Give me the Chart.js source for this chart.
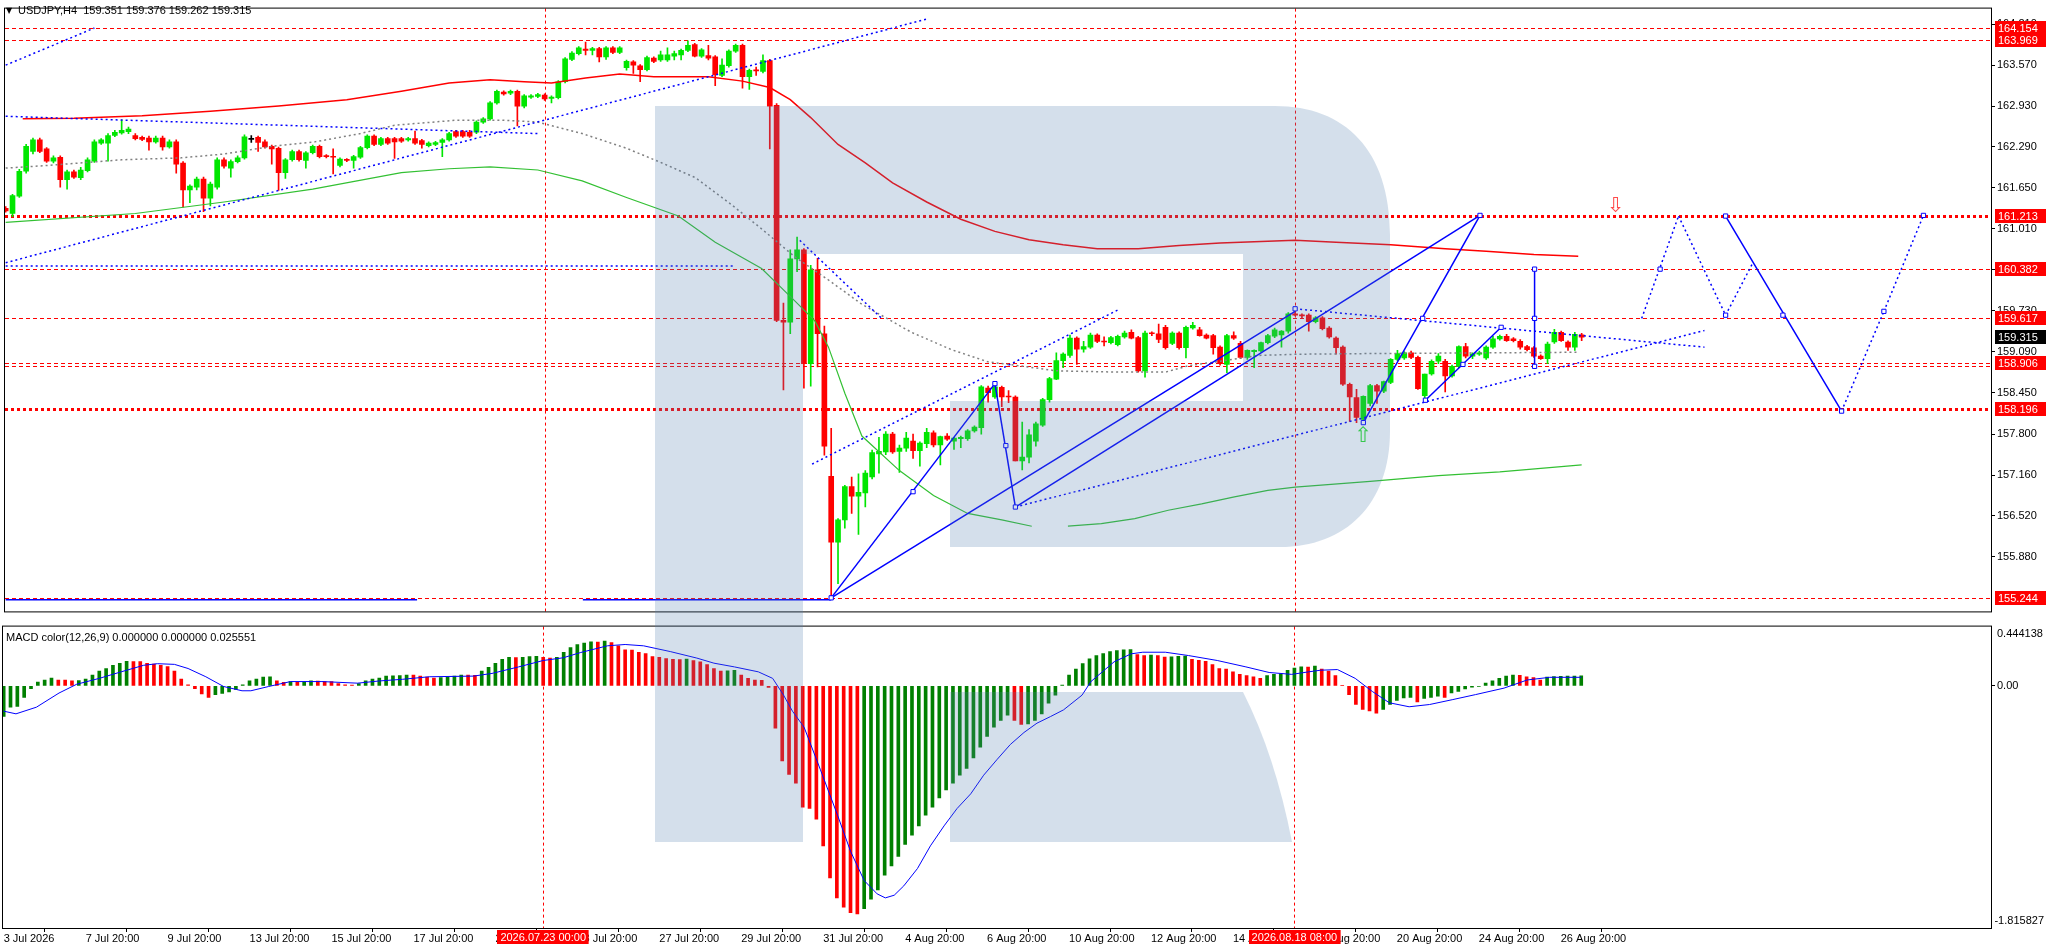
<!DOCTYPE html>
<html>
<head>
<meta charset="utf-8">
<title>USDJPY,H4</title>
<script src="https://cdn.jsdelivr.net/npm/chart.js"></script>
<style>
  html, body { margin: 0; padding: 0; background: #fff; overflow: hidden; }
  #wrap { position: relative; width: 2046px; height: 948px; }
  #priceBox { position: absolute; left: 0; top: 0; width: 2046px; height: 620px; }
  #macdBox { position: absolute; left: 0; top: 618px; width: 2046px; height: 330px; }
  #logo { position: absolute; left: 0; top: 0; pointer-events: none; }
</style>
</head>
<body>
<div id="wrap">
  <div id="priceBox"><canvas id="priceChart"></canvas></div>
  <div id="macdBox"><canvas id="macdChart"></canvas></div>
  <canvas id="logo" width="2046" height="948"></canvas>
</div>
<script>
// --- Data: H4 candles, bar 0 = 3 Jul 2026 20:00 ---
const opens = [
  161.33,161.25,161.52,161.91,162.22,162.40,162.26,162.07,162.13,161.78,
  161.90,161.81,161.92,162.07,162.35,162.35,162.47,162.51,162.53,162.47,
  162.44,162.43,162.37,162.43,162.29,162.37,162.04,161.62,161.66,161.79,
  161.49,161.66,162.09,161.96,162.06,162.12,162.41,162.44,162.37,162.30,
  162.27,161.89,162.09,162.22,162.08,162.20,162.30,162.15,162.14,162.00,
  162.09,162.08,162.13,162.28,162.46,162.33,162.42,162.42,162.42,162.40,
  162.42,162.39,162.31,162.33,162.36,162.40,162.53,162.53,162.52,162.52,
  162.68,162.73,162.98,163.15,163.13,163.16,162.93,163.07,163.08,163.10,
  163.05,163.06,163.31,163.66,163.75,163.82,163.80,163.83,163.70,163.84,
  163.77,163.53,163.62,163.56,163.50,163.68,163.65,163.65,163.71,163.73,
  163.80,163.89,163.71,163.72,163.70,163.41,163.56,163.79,163.88,163.39,
  163.49,163.47,163.64,162.94,159.58,159.55,160.54,160.68,158.90,160.37,
  159.37,157.14,156.11,156.46,156.98,156.83,156.88,157.13,157.49,157.52,
  157.80,157.53,157.58,157.69,157.54,157.65,157.82,157.63,157.77,157.69,
  157.73,157.73,157.85,157.90,158.52,158.38,158.53,158.39,158.38,157.38,
  157.44,157.69,157.94,158.34,158.66,158.95,159.03,159.30,159.13,159.16,
  159.35,159.25,159.23,159.20,159.32,159.39,159.31,158.79,159.38,159.37,
  159.47,159.22,159.38,159.15,159.46,159.43,159.35,159.34,159.16,158.89,
  159.34,159.22,159.00,159.09,159.10,159.23,159.33,159.35,159.41,159.68,
  159.66,159.66,159.56,159.62,159.46,159.30,159.16,158.58,158.37,158.03,
  158.28,158.56,158.47,158.61,158.97,158.99,159.07,159.00,158.40,158.74,
  158.94,158.94,158.71,158.86,159.17,159.02,159.05,158.99,159.16,159.29,
  159.33,159.29,159.25,159.17,159.15,159.02,158.98,159.24,159.39,159.24,
  159.16,159.351
];
const highs = [
  161.36,161.55,161.94,162.33,162.43,162.43,162.28,162.15,162.15,161.93,
  161.93,161.97,162.12,162.40,162.42,162.50,162.55,162.71,162.60,162.50,
  162.46,162.46,162.46,162.46,162.40,162.40,162.06,161.70,161.82,161.82,
  161.74,162.12,162.12,162.09,162.15,162.48,162.47,162.46,162.40,162.32,
  162.29,162.11,162.24,162.24,162.22,162.32,162.32,162.17,162.26,162.12,
  162.11,162.16,162.30,162.48,162.48,162.44,162.44,162.44,162.44,162.44,
  162.54,162.41,162.37,162.38,162.42,162.52,162.55,162.55,162.55,162.70,
  162.75,163.00,163.18,163.17,163.18,163.18,163.11,163.11,163.13,163.12,
  163.09,163.33,163.69,163.78,163.86,163.93,163.85,163.85,163.86,163.86,
  163.86,163.65,163.64,163.58,163.71,163.70,163.79,163.84,163.79,163.82,
  163.95,163.91,163.83,163.88,163.72,163.67,163.81,163.90,163.90,163.51,
  163.54,163.73,163.66,162.97,159.85,160.68,160.88,160.70,160.44,160.55,
  159.49,157.89,156.48,157.00,157.13,157.18,157.23,157.55,157.75,157.84,
  157.83,157.63,157.83,157.80,157.68,157.89,157.85,157.77,157.81,157.75,
  157.77,157.87,157.93,158.56,158.55,158.59,158.55,158.48,158.40,157.99,
  157.87,157.99,158.36,158.69,159.07,159.07,159.35,159.32,159.25,159.38,
  159.37,159.32,159.33,159.35,159.41,159.43,159.33,159.41,159.40,159.52,
  159.50,159.40,159.40,159.49,159.55,159.47,159.37,159.36,159.18,159.36,
  159.40,159.25,159.12,159.12,159.24,159.36,159.46,159.42,159.70,159.77,
  159.68,159.68,159.64,159.64,159.48,159.32,159.18,158.60,158.50,158.40,
  158.58,158.58,158.63,158.98,159.11,159.09,159.10,159.02,158.74,158.96,
  159.06,158.97,158.88,159.18,159.22,159.07,159.10,159.18,159.33,159.35,
  159.36,159.31,159.28,159.19,159.17,159.04,159.24,159.44,159.41,159.26,
  159.39,159.376
];
const lows = [
  161.27,161.20,161.50,161.88,162.18,162.20,162.05,162.04,161.66,161.63,
  161.80,161.78,161.90,162.05,162.33,162.07,162.45,162.49,162.50,162.40,
  162.39,162.24,162.35,162.24,162.27,161.88,161.35,161.42,161.62,161.28,
  161.37,161.63,161.96,161.82,162.04,162.10,162.36,162.22,162.27,162.02,
  161.61,161.80,162.07,162.07,161.96,162.18,162.12,162.12,161.87,161.98,
  162.06,161.96,162.11,162.26,162.31,162.31,162.33,162.11,162.36,162.38,
  162.33,162.27,162.29,162.31,162.14,162.38,162.44,162.44,162.44,162.50,
  162.66,162.71,162.96,163.10,163.11,162.62,162.90,163.05,163.06,163.02,
  162.98,163.04,163.29,163.64,163.73,163.73,163.73,163.62,163.66,163.75,
  163.75,163.49,163.44,163.31,163.48,163.61,163.63,163.63,163.65,163.65,
  163.78,163.70,163.69,163.65,163.25,163.39,163.54,163.77,163.21,163.19,
  163.41,163.45,162.26,159.56,158.49,159.37,160.34,158.52,158.55,158.85,
  157.47,155.244,155.46,156.33,156.56,156.23,156.66,157.10,157.19,157.48,
  157.50,157.20,157.53,157.42,157.30,157.59,157.60,157.32,157.70,157.56,
  157.59,157.70,157.83,157.80,158.30,158.36,158.23,158.29,157.38,157.24,
  157.35,157.61,157.92,158.30,158.65,158.84,159.00,158.89,159.08,159.14,
  159.23,159.18,159.21,159.18,159.30,159.29,158.77,158.69,159.34,159.23,
  159.13,159.20,159.13,158.99,159.44,159.33,159.29,159.05,158.88,158.76,
  159.28,158.98,158.97,158.84,159.08,159.21,159.31,159.16,159.38,159.65,
  159.62,159.41,159.54,159.43,159.30,159.05,158.56,158.00,157.98,157.98,
  158.24,158.28,158.45,158.59,158.95,158.97,158.98,158.50,158.31,158.72,
  158.90,158.46,158.69,158.84,158.99,158.98,159.03,158.97,159.14,159.27,
  159.25,159.24,159.13,159.10,159.00,158.97,158.90,159.22,159.25,159.11,
  159.11,159.262
];
const closes = [
  161.29,161.53,161.91,162.30,162.40,162.22,162.07,162.12,161.78,161.90,
  161.82,161.93,162.09,162.37,162.40,162.47,162.52,162.55,162.57,162.42,
  162.41,162.37,162.43,162.29,162.37,162.02,161.62,161.68,161.79,161.49,
  161.71,162.09,161.99,162.06,162.12,162.45,162.41,162.36,162.29,162.26,
  161.89,162.09,162.22,162.09,162.20,162.30,162.14,162.14,162.13,162.10,
  162.08,162.14,162.28,162.46,162.33,162.42,162.35,162.37,162.38,162.42,
  162.35,162.33,162.35,162.36,162.40,162.50,162.46,162.46,162.46,162.68,
  162.73,162.98,163.16,163.12,163.16,162.93,163.09,163.09,163.11,163.04,
  163.07,163.31,163.67,163.76,163.84,163.80,163.83,163.70,163.84,163.77,
  163.84,163.63,163.57,163.50,163.69,163.63,163.73,163.73,163.75,163.80,
  163.88,163.71,163.81,163.68,163.42,163.57,163.79,163.88,163.39,163.49,
  163.48,163.64,162.93,159.58,159.55,160.54,160.68,158.90,160.37,159.37,
  157.61,156.11,156.46,156.98,156.83,156.89,157.19,157.51,157.53,157.80,
  157.52,157.58,157.74,157.54,157.66,157.83,157.63,157.76,157.72,157.74,
  157.75,157.85,157.91,158.54,158.45,158.54,158.38,158.38,157.38,157.44,
  157.79,157.96,158.34,158.67,158.95,159.05,159.30,159.13,159.17,159.35,
  159.25,159.24,159.31,159.33,159.38,159.30,158.79,159.38,159.37,159.28,
  159.15,159.38,159.15,159.47,159.50,159.34,159.30,159.15,158.90,159.34,
  159.30,159.00,159.11,159.11,159.23,159.34,159.43,159.41,159.68,159.66,
  159.65,159.56,159.62,159.45,159.32,159.15,158.58,158.38,158.06,158.39,
  158.56,158.47,158.62,158.97,159.06,159.07,159.00,158.51,158.74,158.94,
  159.02,158.71,158.86,159.17,159.02,159.05,159.07,159.16,159.29,159.33,
  159.26,159.26,159.16,159.12,159.02,158.98,159.21,159.39,159.26,159.16,
  159.36,159.315
];

// moving averages (bar index, price)
const redMaX = [2.5,10,20,30,40,50,58,65,71,76,80,85,90,95,103,108,112,115,118,122,126,130,135,140,145,150,155,160,166,172,178,189,195,203,211,217,224,230.5];
const redMaY = [162.73,162.74,162.78,162.85,162.93,163.03,163.16,163.29,163.34,163.31,163.29,163.37,163.43,163.39,163.39,163.32,163.22,163.03,162.75,162.33,162.04,161.73,161.43,161.16,160.97,160.84,160.76,160.70,160.70,160.75,160.79,160.83,160.80,160.76,160.70,160.66,160.61,160.58];
const greenMaX = [0,19,32,45,58,65,71,78,84.5,91,98.6,104,110.8,115.7,118.6,120.6,123,125.5,131,136,141,146,150.4,153,155.7,160.6,165.5,170.4,175.3,180.1,185,189,200,210,219,231];
const greenMaY = [161.11,161.25,161.43,161.63,161.89,161.95,161.98,161.93,161.76,161.50,161.21,160.80,160.39,159.88,159.57,159.16,158.44,157.77,157.23,156.84,156.56,156.46,156.36,null,156.36,156.40,156.48,156.61,156.71,156.82,156.92,156.97,157.06,157.15,157.21,157.32];
const grayMaX = [0,6,17,25.7,32,39,45.3,52,57,61.6,66.2,72.8,78,84.5,91,96.2,101.1,106,110.8,115.7,120.6,125.5,132.8,138.65,144,148.5,154,163,170,173.4,178,183.5,189.7,200,215,230.5];
const grayMaY = [161.96,162.00,162.09,162.12,162.18,162.30,162.37,162.50,162.63,162.67,162.71,162.71,162.68,162.50,162.27,162.04,161.81,161.42,161.01,160.57,160.21,159.83,159.39,159.12,158.93,158.87,158.79,158.77,158.77,158.87,158.94,159.03,159.05,159.06,159.07,159.08];

// trend lines [bar1, price1, bar2, price2]
const dottedLines = [
  [0, 163.57, 13, 164.15], [0, 162.77, 78, 162.50], [0, 160.48, 135.3, 164.30],
  [0, 160.43, 107, 160.43], [116.4, 160.83, 128.5, 159.60], [118.2, 157.33, 163, 159.74],
  [148, 156.66, 249, 159.42], [189, 159.76, 249, 159.16],
  [239.8, 159.61, 245.2, 161.21], [245.2, 161.21, 252.1, 159.66], [252.1, 159.66, 256, 160.46],
  [269.1, 158.16, 275.3, 159.72], [275.3, 159.72, 281.1, 161.22]
];
const solidLines = [
  [0, 155.21, 60.3, 155.21], [84.6, 155.21, 121, 155.21],
  [121, 155.24, 145, 158.59], [145, 158.59, 148, 156.66],
  [121, 155.24, 189, 159.72], [148, 156.66, 216.1, 161.22],
  [199, 157.98, 216.1, 161.22], [208.1, 158.33, 219.2, 159.47],
  [224.1, 158.86, 224.1, 160.38], [252.1, 161.21, 269.1, 158.16]
];
const markerX = [121, 133, 145, 146.6, 148, 189, 199, 207.7, 216.1, 208.1, 213.6, 219.2, 224.1, 224.1, 224.1, 242.5, 252.1, 252.1, 260.5, 269.1, 275.3, 281.1];
const markerY = [155.24, 156.90, 158.59, 157.62, 156.66, 159.76, 157.98, 159.61, 161.22, 158.33, 158.89, 159.47, 158.86, 159.61, 160.38, 160.38, 159.66, 161.21, 159.66, 158.16, 159.72, 161.22];

// horizontal levels and vertical time lines
const levelPrices = [164.154, 163.969, 161.213, 160.382, 159.617, 158.906, 158.196, 155.244];
const extraLevels = [158.87];
const thickLevels = [161.213, 158.196];
const lastPrice = 159.315;
const vBars = [79, 189];
const vLabels = ['2026.07.23 00:00', '2026.08.18 08:00'];
const arrowBars = [236, 199];
const arrowPrices = [161.36, 157.76];
const arrowGlyphs = ['\u21E9', '\u21E7'];

// axes
const priceTicks = [164.210, 163.570, 162.930, 162.290, 161.650, 161.010, 160.370, 159.730, 159.090, 158.450, 157.800, 157.160, 156.520, 155.880];
const tickBars = [0, 12, 24, 36, 48, 60, 72, 84, 96, 108, 120, 132, 144, 156, 168, 180, 192, 204, 216, 228];
const tickLabels = ['3 Jul 2026', '7 Jul 20:00', '9 Jul 20:00', '13 Jul 20:00', '15 Jul 20:00', '17 Jul 20:00', '21 Jul 20:00',
  '23 Jul 20:00', '27 Jul 20:00', '29 Jul 20:00', '31 Jul 20:00', '4 Aug 20:00', '6 Aug 20:00', '10 Aug 20:00',
  '12 Aug 20:00', '14 Aug 20:00', '18 Aug 20:00', '20 Aug 20:00', '24 Aug 20:00', '26 Aug 20:00'];

// MACD histogram and signal
const macdHist = [
  -0.23,-0.16,-0.155,-0.086,-0.022,0.029,0.044,0.059,0.044,0.043,
  0.037,0.039,0.051,0.081,0.11,0.13,0.154,0.169,0.183,0.182,
  0.181,0.169,0.164,0.154,0.144,0.11,0.051,0.007,-0.022,-0.061,
  -0.086,-0.066,-0.056,-0.046,-0.027,0.007,0.037,0.051,0.066,0.068,
  0.037,0.027,0.032,0.027,0.029,0.037,0.036,0.032,0.031,0.017,
  0.007,0.006,0.017,0.037,0.051,0.059,0.073,0.075,0.077,0.081,
  0.080,0.073,0.066,0.059,0.061,0.066,0.073,0.081,0.080,0.079,
  0.11,0.139,0.169,0.198,0.213,0.211,0.213,0.22,0.222,0.213,
  0.208,0.213,0.252,0.286,0.31,0.32,0.33,0.328,0.335,0.325,
  0.30,0.27,0.268,0.252,0.242,0.22,0.213,0.205,0.198,0.196,
  0.20,0.19,0.18,0.159,0.13,0.11,0.112,0.117,0.081,0.056,
  0.044,0.042,-0.012,-0.318,-0.563,-0.665,-0.73,-0.91,-0.92,-1.00,
  -1.20,-1.44,-1.59,-1.66,-1.70,-1.71,-1.67,-1.60,-1.53,-1.42,
  -1.35,-1.28,-1.19,-1.12,-1.05,-0.97,-0.91,-0.84,-0.78,-0.73,
  -0.67,-0.62,-0.54,-0.46,-0.38,-0.31,-0.26,-0.22,-0.26,-0.29,
  -0.285,-0.26,-0.21,-0.13,-0.07,0.005,0.081,0.125,0.166,0.203,
  0.227,0.242,0.257,0.264,0.27,0.272,0.235,0.226,0.230,0.226,
  0.215,0.218,0.221,0.224,0.198,0.191,0.183,0.159,0.13,0.125,
  0.105,0.086,0.076,0.068,0.056,0.076,0.086,0.09,0.117,0.134,
  0.142,0.14,0.149,0.125,0.11,0.076,0.004,-0.066,-0.14,-0.176,
  -0.188,-0.205,-0.176,-0.14,-0.11,-0.09,-0.086,-0.12,-0.095,-0.086,
  -0.078,-0.086,-0.054,-0.042,-0.024,-0.01,-0.005,0.02,0.037,0.056,
  0.073,0.081,0.079,0.068,0.061,0.044,0.066,0.070,0.072,0.073,
  0.074,0.075
];
const sigX = [0,1.8,4.8,8.1,10.7,14,17.2,20.5,22.5,25,27,29.6,32.2,34.9,36.2,38.8,42,46.6,51.8,55.1,58.4,62.3,68.8,71.5,75.4,79,81.9,84.5,88.4,91,93.7,97.6,101.5,104,107,110.5,112.6,114.2,115.5,117.2,119.6,122.1,124,126,127.9,129.1,130.4,131.8,133.8,135.7,137.7,139.6,141.6,143.5,145.5,147.4,149.4,151.3,153.3,155.2,157.9,159.2,162.6,165.1,166.8,170.1,173.5,177.7,181.9,185.3,188.6,191.1,192.8,195.3,197.9,200.4,202.9,205.8,208.8,212.2,215.5,219.7,223.1,226.4,231];
const sigY = [-0.19,-0.21,-0.16,-0.054,0.012,0.056,0.105,0.154,0.166,0.161,0.13,0.068,-0.005,-0.037,-0.037,-0.005,0.032,0.032,0.02,0.037,0.049,0.068,0.073,0.093,0.142,0.19,0.21,0.25,0.30,0.31,0.30,0.257,0.208,0.17,0.142,0.105,0.056,-0.07,-0.19,-0.31,-0.63,-0.97,-1.24,-1.46,-1.56,-1.59,-1.57,-1.50,-1.37,-1.20,-1.05,-0.92,-0.81,-0.67,-0.55,-0.44,-0.35,-0.28,-0.23,-0.18,-0.07,0.032,0.18,0.24,0.252,0.252,0.227,0.19,0.142,0.10,0.086,0.105,0.117,0.122,0.056,-0.042,-0.127,-0.157,-0.14,-0.103,-0.066,-0.017,0.044,0.064,0.064];
const macdMin = -1.815827, macdMax = 0.444138;

const headerText = 'USDJPY,H4  159.351 159.376 159.262 159.315';
const macdTitle = 'MACD color(12,26,9) 0.000000 0.000000 0.025551';

// --- Setup ---
const FONT = '11px "Liberation Sans", Arial, sans-serif';
Chart.defaults.font.family = '"Liberation Sans", Arial, sans-serif';
Chart.defaults.font.size = 11;
Chart.defaults.color = '#000';
Chart.defaults.animation = false;

const xMin = -0.1, xMax = 291;
const bars = opens.map((_, i) => i);
const candleColor = bars.map(i => closes[i] > opens[i] ? '#00e600' : (closes[i] < opens[i] ? '#ff0000' : '#000000'));
const macdColor = bars.map(i => (i === 0 || macdHist[i] > macdHist[i - 1]) ? '#008000' : '#ff0000');

function pts(xs, ys) {
  return xs.map((x, i) => ({ x: x, y: ys[i] }));
}

function segment(s, dotted) {
  return {
    type: 'line', data: [{ x: s[0], y: s[1] }, { x: s[2], y: s[3] }],
    borderColor: '#0000ff', borderWidth: 1.5, borderDash: dotted ? [2, 3] : [],
    pointRadius: 0, order: 1
  };
}

function boxLabel(ctx, text, x, y, fill, center) {
  ctx.font = FONT;
  const w = center ? ctx.measureText(text).width + 6 : 2046 - x;
  const left = center ? Math.round(x - w / 2) : x;
  ctx.fillStyle = fill;
  ctx.fillRect(left, Math.round(y) - 7, w, 14);
  ctx.fillStyle = '#fff';
  ctx.textBaseline = 'middle';
  ctx.textAlign = center ? 'center' : 'left';
  ctx.fillText(text, center ? x : x + 3, Math.round(y) + 0.5);
}

function vLines(chart) {
  const { ctx, chartArea: a, scales: { x } } = chart;
  ctx.save();
  ctx.strokeStyle = '#ff0000';
  ctx.lineWidth = 1;
  ctx.setLineDash([3, 3]);
  vBars.forEach(b => {
    const px = Math.round(x.getPixelForValue(b)) + 0.5;
    ctx.beginPath(); ctx.moveTo(px, a.top); ctx.lineTo(px, a.bottom); ctx.stroke();
  });
  ctx.restore();
}

function frame(chart) {
  const { ctx, chartArea: a } = chart;
  ctx.save();
  ctx.strokeStyle = '#000';
  ctx.lineWidth = 1;
  ctx.strokeRect(a.left - 0.5, a.top - 0.5, a.right - a.left + 1, a.bottom - a.top + 1);
  ctx.restore();
}

const priceDecor = {
  id: 'priceDecor',
  beforeDatasetsDraw(chart) {
    const { ctx, chartArea: a, scales: { y } } = chart;
    ctx.save();
    ctx.strokeStyle = '#ff0000';
    levelPrices.concat(extraLevels).forEach(p => {
      const thick = thickLevels.includes(p);
      const py = Math.round(y.getPixelForValue(p)) + 0.5;
      ctx.lineWidth = thick ? 3 : 1;
      ctx.setLineDash(thick ? [3, 3] : [4, 3]);
      ctx.beginPath(); ctx.moveTo(a.left, py); ctx.lineTo(a.right, py); ctx.stroke();
    });
    ctx.restore();
    vLines(chart);
  },
  afterDatasetsDraw(chart) {
    const { ctx, scales: { x, y } } = chart;
    ctx.save();
    ctx.font = '21px "DejaVu Sans"';
    ctx.textAlign = 'center';
    ctx.textBaseline = 'middle';
    arrowBars.forEach((b, i) => {
      ctx.fillStyle = i === 0 ? '#ff4a4a' : '#2ee02e';
      ctx.fillText(arrowGlyphs[i], x.getPixelForValue(b), y.getPixelForValue(arrowPrices[i]));
    });
    ctx.restore();
  },
  afterDraw(chart) {
    const { ctx, chartArea: a, scales: { y } } = chart;
    frame(chart);
    ctx.save();
    ctx.fillStyle = '#000';
    ctx.textBaseline = 'middle';
    ctx.textAlign = 'left';
    ctx.font = '8px "DejaVu Sans"';
    ctx.fillText('\u25BC', 6, 11);
    ctx.font = FONT;
    ctx.fillText(headerText, 18, 11);
    levelPrices.forEach(p => boxLabel(ctx, p.toFixed(3), a.right + 4, y.getPixelForValue(p), '#ff0000', false));
    boxLabel(ctx, lastPrice.toFixed(3), a.right + 4, y.getPixelForValue(lastPrice), '#000000', false);
    ctx.restore();
  }
};

const macdDecor = {
  id: 'macdDecor',
  beforeDatasetsDraw(chart) { vLines(chart); },
  afterDraw(chart) {
    const { ctx, chartArea: a, scales: { x } } = chart;
    frame(chart);
    ctx.save();
    ctx.font = FONT;
    ctx.fillStyle = '#000';
    ctx.textBaseline = 'middle';
    ctx.textAlign = 'left';
    ctx.fillText(macdTitle, 6, a.top + 11);
    ctx.fillText(macdMax.toFixed(6), a.right + 6, a.top + 7);
    ctx.textAlign = 'right';
    ctx.fillText(macdMin.toFixed(6), 2044, a.bottom - 7);
    vBars.forEach((b, i) => boxLabel(ctx, vLabels[i], x.getPixelForValue(b), a.bottom + 9, '#ff0000', true));
    ctx.restore();
  }
};

// --- Price chart ---
const priceDatasets = [
  { type: 'line', data: pts(markerX, markerY), showLine: false, pointStyle: 'rect', pointRadius: 3,
    pointBorderColor: '#0000ff', pointBackgroundColor: '#ffffff', pointBorderWidth: 1, order: 0 },
  ...dottedLines.map(s => segment(s, true)),
  ...solidLines.map(s => segment(s, false)),
  { type: 'line', data: pts(redMaX, redMaY), borderColor: '#ff0000', borderWidth: 1.5, pointRadius: 0, order: 2 },
  { type: 'line', data: pts(greenMaX, greenMaY), borderColor: '#33c033', borderWidth: 1.2, pointRadius: 0, spanGaps: false, order: 2 },
  { type: 'line', data: pts(grayMaX, grayMaY), borderColor: '#808080', borderWidth: 1.5, borderDash: [2, 3], pointRadius: 0, order: 2 },
  { type: 'bar', data: bars.map(i => ({ x: i, y: [opens[i], closes[i]] })), backgroundColor: candleColor,
    barThickness: 5, grouped: false, minBarLength: 1, order: 3 },
  { type: 'bar', data: bars.map(i => ({ x: i, y: [lows[i], highs[i]] })), backgroundColor: candleColor,
    barThickness: 1, grouped: false, order: 4 }
];

new Chart(document.getElementById('priceChart'), {
  type: 'bar',
  data: { datasets: priceDatasets },
  options: {
    responsive: true, maintainAspectRatio: false, devicePixelRatio: 1, events: [],
    layout: { padding: { left: 3, top: 4, right: 0, bottom: 4 } },
    plugins: { legend: { display: false }, tooltip: { enabled: false } },
    scales: {
      x: { type: 'linear', min: xMin, max: xMax, offset: false, display: false },
      y: {
        position: 'right', min: 155.028, max: 164.454,
        afterFit: s => { s.width = 55; },
        afterBuildTicks: s => { s.ticks = priceTicks.map(v => ({ value: v })); },
        ticks: { callback: v => v.toFixed(3), padding: 2, autoSkip: false },
        grid: { drawOnChartArea: false, tickLength: 4, color: '#000' },
        border: { display: false }
      }
    }
  },
  plugins: [priceDecor]
});

// --- MACD chart ---
new Chart(document.getElementById('macdChart'), {
  type: 'bar',
  data: {
    datasets: [
      { type: 'line', data: pts(sigX, sigY), borderColor: '#0000ff', borderWidth: 1, pointRadius: 0, order: 0 },
      { type: 'bar', data: bars.map(i => ({ x: i, y: macdHist[i] })), backgroundColor: macdColor,
        barThickness: 3, grouped: false, order: 1 }
    ]
  },
  options: {
    responsive: true, maintainAspectRatio: false, devicePixelRatio: 1, events: [],
    layout: { padding: { left: 3, top: 3, right: 0, bottom: 0 } },
    plugins: { legend: { display: false }, tooltip: { enabled: false } },
    scales: {
      x: {
        type: 'linear', min: xMin, max: xMax, offset: false, position: 'bottom',
        afterFit: s => { s.height = 20; },
        afterBuildTicks: s => { s.ticks = tickBars.map(v => ({ value: v })); },
        ticks: { callback: (v, i) => tickLabels[i], align: 'start', autoSkip: false, maxRotation: 0, minRotation: 0, padding: 0 },
        grid: { drawOnChartArea: false, tickLength: 4, color: '#000' },
        border: { display: false }
      },
      y: {
        position: 'right', min: macdMin, max: macdMax,
        afterFit: s => { s.width = 55; },
        afterBuildTicks: s => { s.ticks = [{ value: 0 }]; },
        ticks: { callback: v => v.toFixed(2), padding: 2 },
        grid: { drawOnChartArea: false, tickLength: 4, color: '#000' },
        border: { display: false }
      }
    }
  },
  plugins: [macdDecor]
});

// --- Watermark logo (translucent overlay) ---
const lg = document.getElementById('logo').getContext('2d');
lg.fillStyle = 'rgba(83,127,175,0.25)';
lg.beginPath();
lg.moveTo(655, 106);
lg.lineTo(1275, 106);
lg.bezierCurveTo(1345, 106, 1390, 150, 1390, 235);
lg.lineTo(1390, 431);
lg.bezierCurveTo(1390, 505, 1345, 547, 1280, 547);
lg.lineTo(950, 547);
lg.lineTo(950, 401);
lg.lineTo(1243, 401);
lg.lineTo(1243, 254);
lg.lineTo(803, 254);
lg.lineTo(803, 842);
lg.lineTo(655, 842);
lg.closePath();
lg.fill();
lg.beginPath();
lg.moveTo(950, 692);
lg.lineTo(1243, 692);
lg.quadraticCurveTo(1275, 755, 1292, 842);
lg.lineTo(950, 842);
lg.closePath();
lg.fill();
</script>
</body>
</html>
